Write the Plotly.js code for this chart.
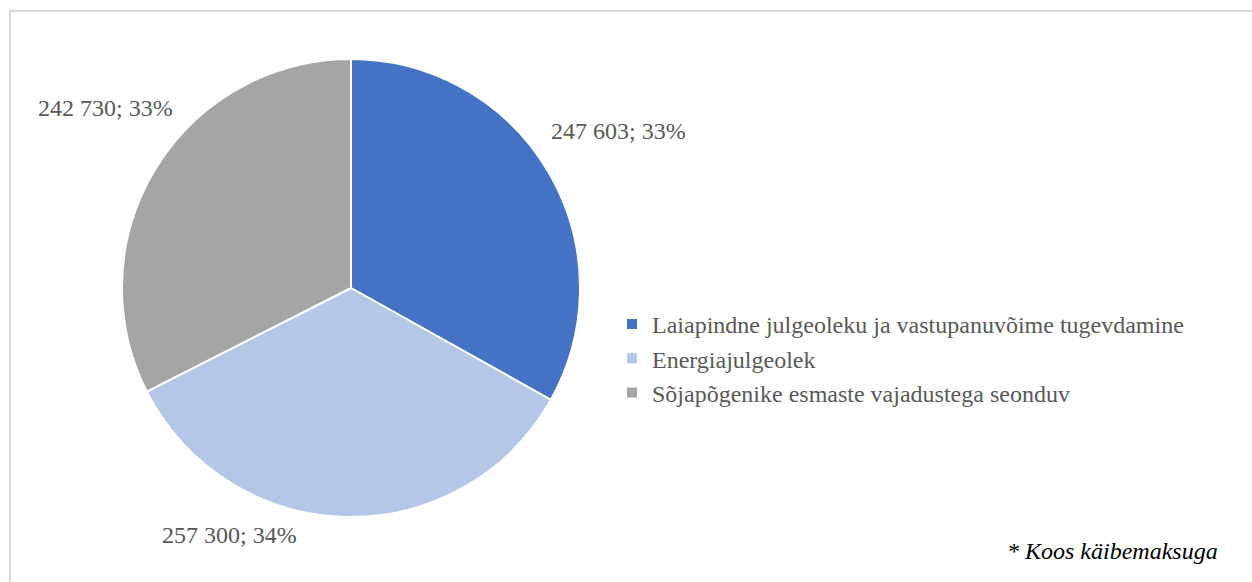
<!DOCTYPE html>
<html>
<head>
<meta charset="utf-8">
<script src="https://cdn.plot.ly/plotly-3.0.1.min.js"></script>
<style>html,body{margin:0;padding:0;background:#fff;}#chart{width:1252px;height:582px;}</style>
</head>
<body>
<div id="chart"></div>
<script>
var categories = ["Laiapindne julgeoleku ja vastupanuvõime tugevdamine", "Energiajulgeolek", "Sõjapõgenike esmaste vajadustega seonduv"];
var values = [247603, 257300, 242730];
var percentLabels = ["33%", "34%", "33%"];
var colors = ["#4472C4", "#B4C7E7", "#A5A5A5"];
var footnote = "* Koos käibemaksuga";

// data-label placement (pixel centres, as placed in the source chart)
var labelPos = [[618, 131], [229, 535], [105, 108]];

var W = 1252, H = 582;
var cx = 351, cy = 288, R = 229;
var SERIF = "'Liberation Serif', 'Times New Roman', 'DejaVu Serif', serif";

function fmtThousands(v) {
  return String(v).replace(/\B(?=(\d{3})+(?!\d))/g, " ");
}

var trace = {
  type: "pie",
  labels: categories,
  values: values,
  sort: false,
  direction: "clockwise",
  rotation: 0,
  marker: {colors: colors, line: {color: "#ffffff", width: 2}},
  textinfo: "none",
  hoverinfo: "none",
  automargin: false,
  domain: {x: [(cx - R) / W, (cx + R) / W], y: [1 - (cy + R) / H, 1 - (cy - R) / H]}
};

var annotations = values.map(function (v, i) {
  return {
    text: fmtThousands(v) + "; " + percentLabels[i],
    xref: "paper", yref: "paper",
    x: labelPos[i][0] / W, y: 1 - labelPos[i][1] / H,
    xanchor: "center", yanchor: "middle", showarrow: false,
    font: {family: SERIF, size: 24, color: "#595959"}
  };
});
annotations.push({
  text: "<i>" + footnote + "</i>", xref: "paper", yref: "paper",
  x: 1220 / W, y: 1 - 551 / H, xanchor: "right", yanchor: "middle",
  showarrow: false, font: {family: SERIF, size: 24, color: "#000000"}
});

var layout = {
  width: W, height: H,
  margin: {l: 0, r: 0, t: 0, b: 0},
  paper_bgcolor: "#ffffff",
  showlegend: true,
  legend: {
    x: 612 / W, y: 1 - 302 / H, xanchor: "left", yanchor: "top",
    font: {family: SERIF, size: 24, color: "#595959"},
    itemwidth: 30
  },
  shapes: [{
    type: "rect", xref: "paper", yref: "paper",
    x0: 10 / W, x1: 1.05, y0: -0.05, y1: 1 - 11 / H,
    line: {color: "#D9D9D9", width: 2}, fillcolor: "rgba(0,0,0,0)"
  }],
  annotations: annotations
};

Plotly.newPlot("chart", [trace], layout, {displayModeBar: false, staticPlot: true});
</script>
</body>
</html>
